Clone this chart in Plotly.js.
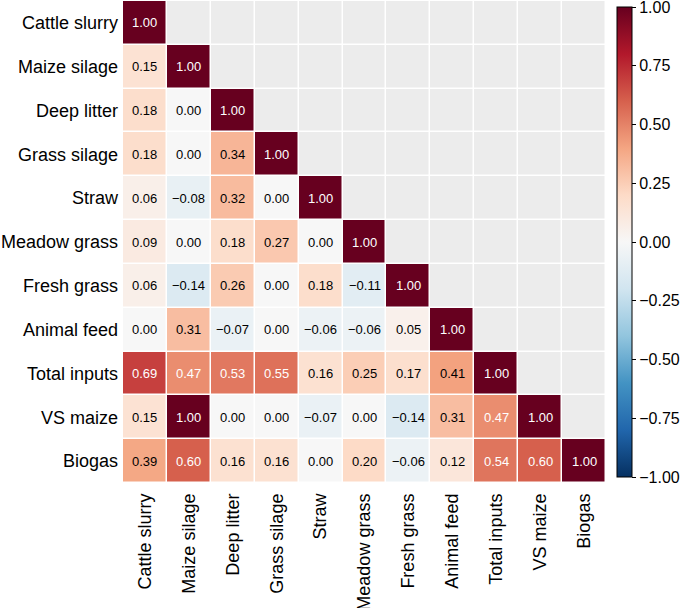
<!DOCTYPE html>
<html>
<head>
<meta charset="utf-8">
<script src="https://cdn.plot.ly/plotly-3.0.1.min.js"></script>
<style>html,body{margin:0;padding:0;background:#fff;}#chart{width:684px;height:608px;}</style>
</head>
<body>
<div id="chart"></div>
<script>
const variables = ["Cattle slurry","Maize silage","Deep litter","Grass silage","Straw","Meadow grass","Fresh grass","Animal feed","Total inputs","VS maize","Biogas"];
const rowCattle  = [1.00];
const rowMaize   = [0.15, 1.00];
const rowDeep    = [0.18, 0.00, 1.00];
const rowGrassS  = [0.18, 0.00, 0.34, 1.00];
const rowStraw   = [0.06, -0.08, 0.32, 0.00, 1.00];
const rowMeadow  = [0.09, 0.00, 0.18, 0.27, 0.00, 1.00];
const rowFresh   = [0.06, -0.14, 0.26, 0.00, 0.18, -0.11, 1.00];
const rowAnimal  = [0.00, 0.31, -0.07, 0.00, -0.06, -0.06, 0.05, 1.00];
const rowTotal   = [0.69, 0.47, 0.53, 0.55, 0.16, 0.25, 0.17, 0.41, 1.00];
const rowVS      = [0.15, 1.00, 0.00, 0.00, -0.07, 0.00, -0.14, 0.31, 0.47, 1.00];
const rowBiogas  = [0.39, 0.60, 0.16, 0.16, 0.00, 0.20, -0.06, 0.12, 0.54, 0.60, 1.00];
const rows = [rowCattle,rowMaize,rowDeep,rowGrassS,rowStraw,rowMeadow,rowFresh,rowAnimal,rowTotal,rowVS,rowBiogas];
const colorbarTicks = [-1, -0.75, -0.5, -0.25, 0, 0.25, 0.5, 0.75, 1];

const FONT = "Liberation Sans, Arial, Helvetica, sans-serif";
const n = variables.length;
const zLower = [], zUpper = [];
const annotations = [];
for (let i = 0; i < n; i++) {
  const lo = [], up = [];
  for (let j = 0; j < n; j++) {
    if (j <= i) {
      const v = rows[i][j];
      lo.push(v); up.push(null);
      let s = v.toFixed(2);
      if (s === "-0.00") s = "0.00";
      s = s.replace("-", "\u2212");
      annotations.push({
        x: variables[j], y: variables[i], xref: "x", yref: "y",
        text: s, showarrow: false,
        font: {size: 13, color: v >= 0.45 ? "#ffffff" : "#000000", family: FONT}
      });
    } else {
      lo.push(null); up.push(1);
    }
  }
  zLower.push(lo); zUpper.push(up);
}

const rdbu = ["#053061","#2166ac","#4393c3","#92c5de","#d1e5f0","#f7f7f7","#fddbc7","#f4a582","#d6604d","#b2182b","#67001f"];
const colorscale = rdbu.map((c, k) => [k / (rdbu.length - 1), c]);

const traces = [
  {
    type: "heatmap", x: variables, y: variables, z: zUpper,
    colorscale: [[0, "#ececec"], [1, "#ececec"]], showscale: false,
    xgap: 1.5, ygap: 1.5, hoverinfo: "skip"
  },
  {
    type: "heatmap", x: variables, y: variables, z: zLower,
    colorscale: colorscale, zmin: -1, zmax: 1,
    xgap: 1.5, ygap: 1.5,
    colorbar: {
      x: 1.0228, xanchor: "left", xpad: 0, y: 0.5, yanchor: "middle",
      len: 0.975, lenmode: "fraction", thickness: 15, thicknessmode: "pixels",
      outlinewidth: 1, outlinecolor: "#000",
      ticks: "outside", ticklen: 4, tickwidth: 1, tickcolor: "#000",
      tickmode: "array", tickvals: colorbarTicks,
      ticktext: colorbarTicks.map(t => t.toFixed(2).replace("-", "\u2212")),
      ticklabeloverflow: "allow",
      tickfont: {size: 16, color: "#000", family: FONT},
      ypad: 0
    }
  }
];

const layout = {
  width: 684, height: 608,
  margin: {l: 123, r: 78, t: 1, b: 125},
  paper_bgcolor: "#fff", plot_bgcolor: "#fff",
  font: {family: FONT, color: "#000"},
  xaxis: {
    type: "category", tickangle: -90, showgrid: false, zeroline: false, showline: false,
    ticks: "", tickfont: {size: 18}, automargin: false, ticklabelstandoff: 6
  },
  yaxis: {
    type: "category", autorange: "reversed", showgrid: false, zeroline: false, showline: false,
    ticks: "", tickfont: {size: 18}, automargin: false, ticklabelstandoff: 4
  },
  annotations: annotations,
  showlegend: false
};

Plotly.newPlot("chart", traces, layout, {displayModeBar: false, staticPlot: true});
</script>
</body>
</html>
